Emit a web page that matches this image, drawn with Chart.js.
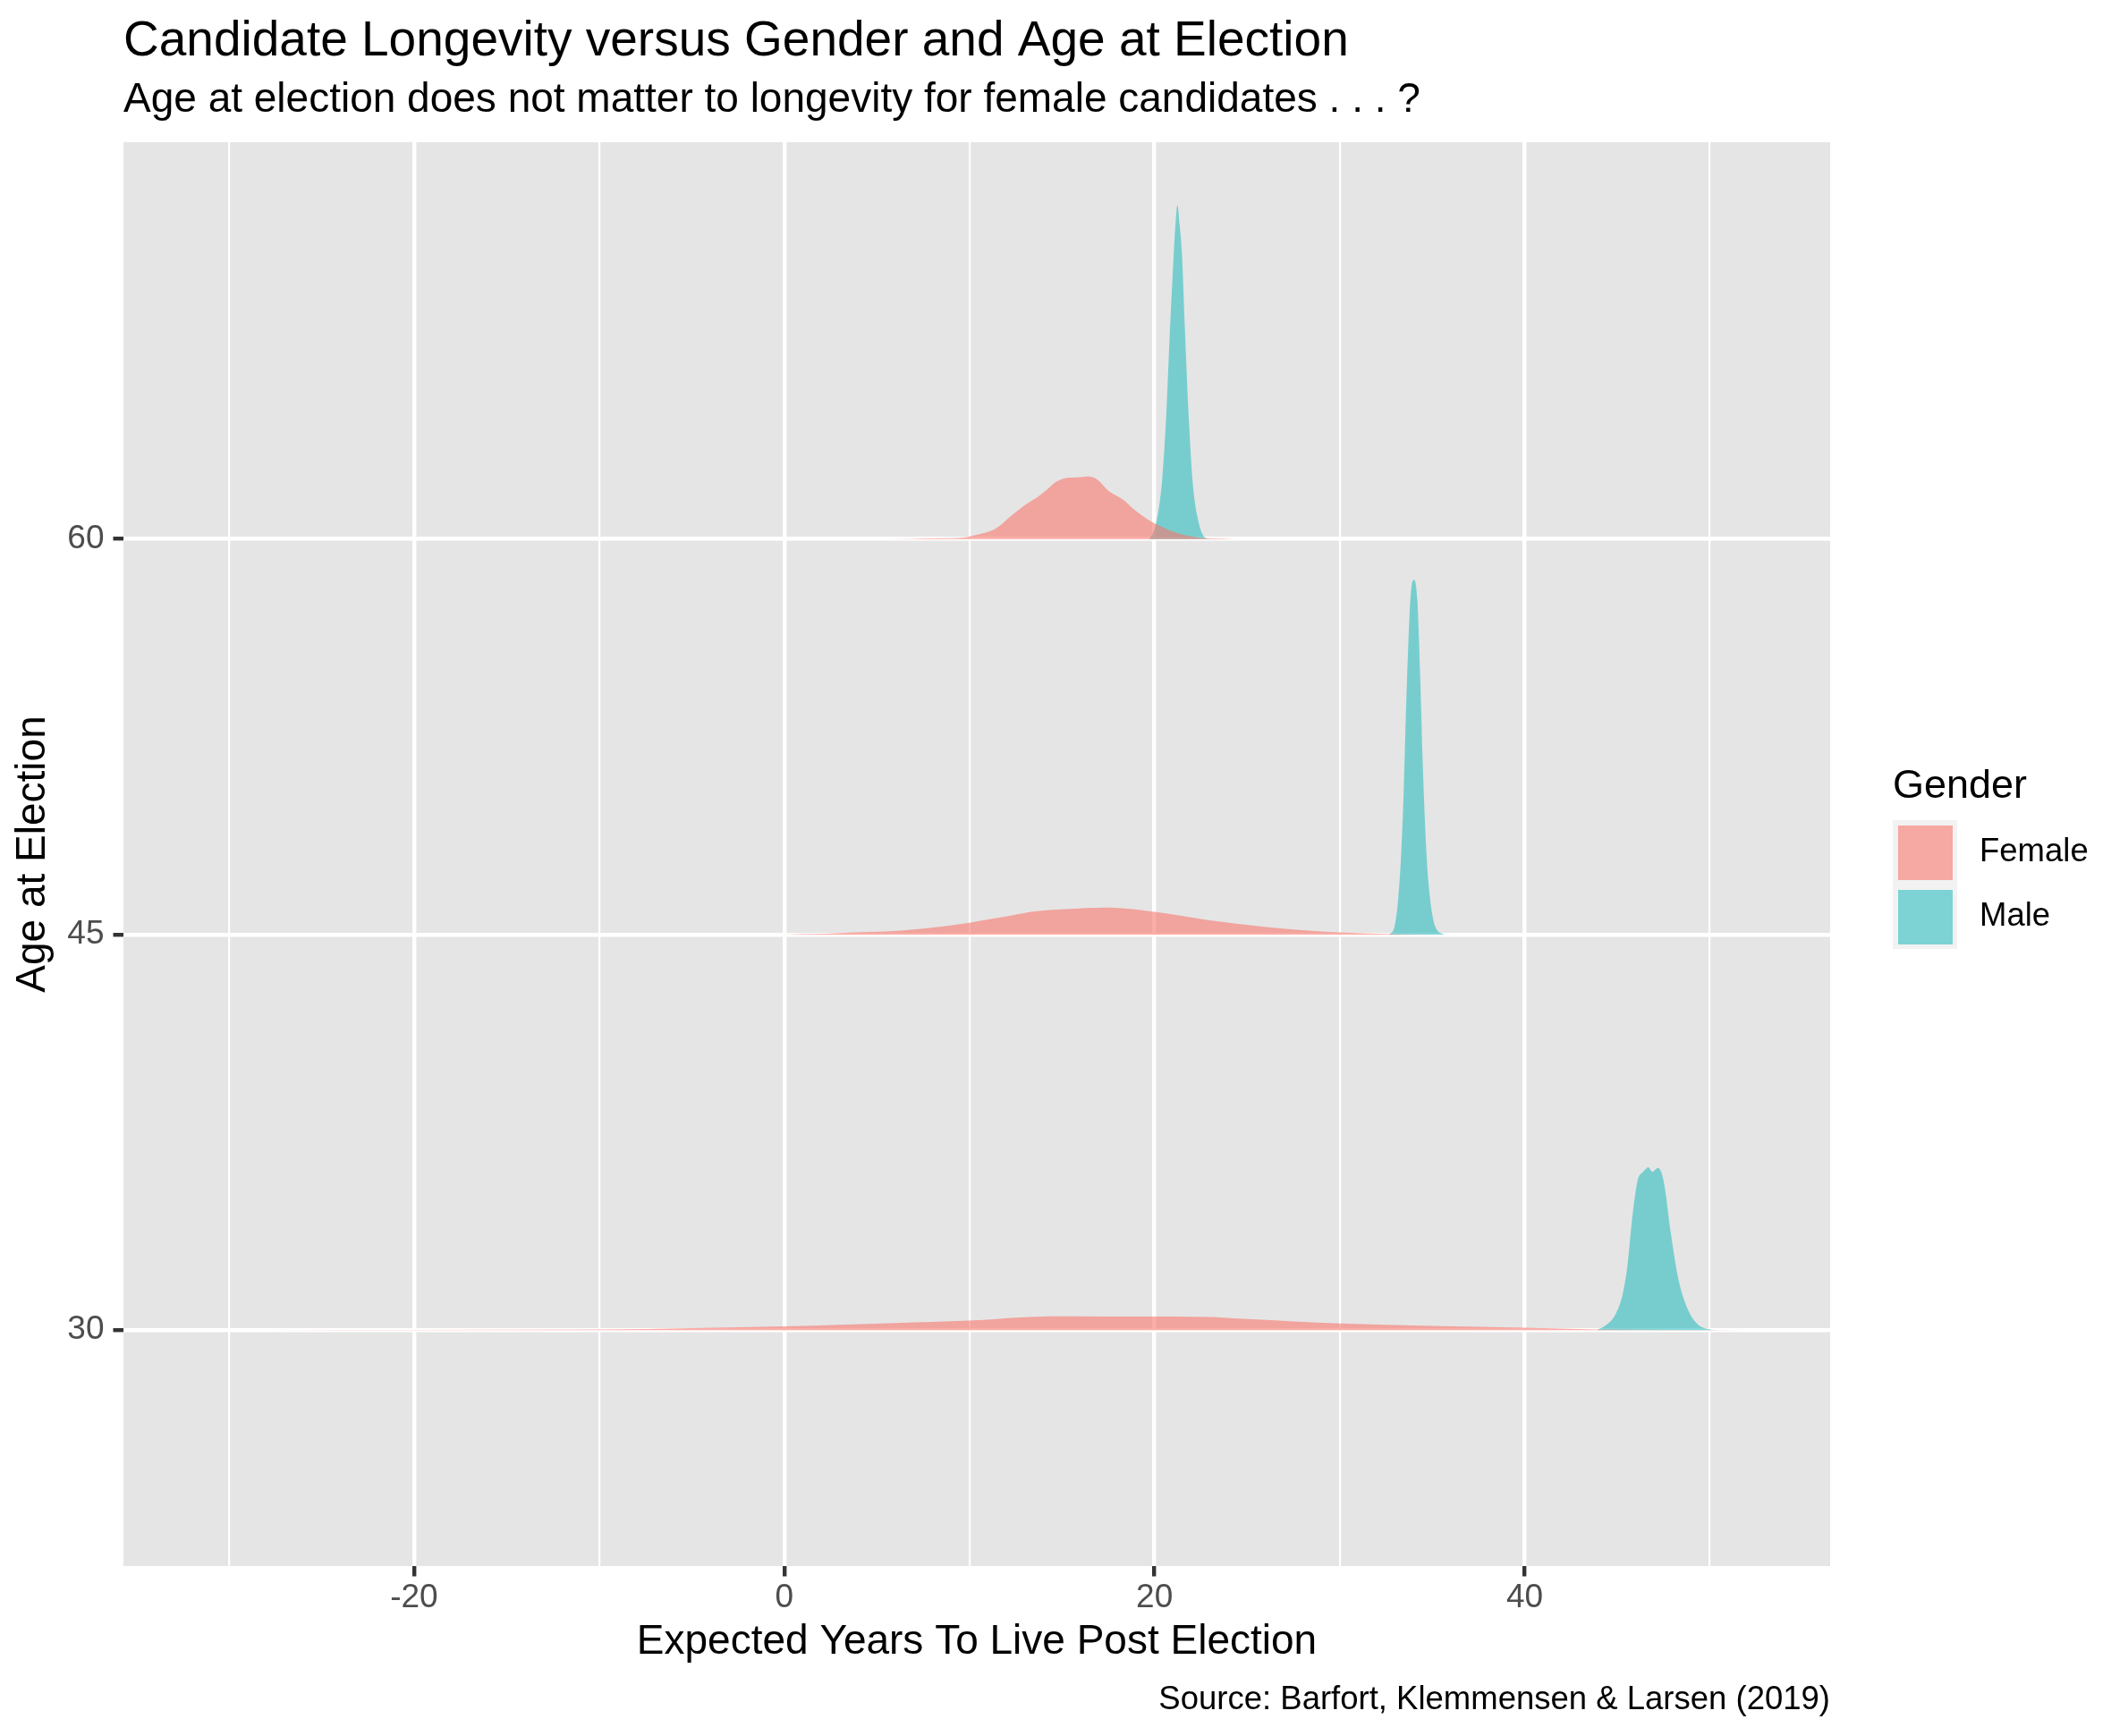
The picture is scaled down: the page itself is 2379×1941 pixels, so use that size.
<!DOCTYPE html>
<html>
<head>
<meta charset="utf-8">
<script src="https://cdn.jsdelivr.net/npm/chart.js@4.4.1/dist/chart.umd.min.js"></script>
<style>
  html, body { margin: 0; padding: 0; background: #ffffff; }
  #wrap { width: 2379px; height: 1941px; }
</style>
</head>
<body>
<div id="wrap"><canvas id="chartCanvas" width="2379" height="1941"></canvas></div>
<script>
// Texts
const chartTitle = 'Candidate Longevity versus Gender and Age at Election';
const chartSubtitle = 'Age at election does not matter to longevity for female candidates . . . ?';
const chartCaption = 'Source: Barfort, Klemmensen & Larsen (2019)';
const xTitle = 'Expected Years To Live Post Election';
const yTitle = 'Age at Election';
const legendTitle = 'Gender';

// Categories and ticks
const genders = ['Female', 'Male'];
const ageLevels = [60, 45, 30];
const xTickValues = [-30, -20, -10, 0, 10, 20, 30, 40, 50];
const xTickLabels = ['', '-20', '', '0', '', '20', '', '40', ''];
const yTickValues = [30, 45, 60];

// Ridge heights (in y units above each age baseline)
const female60Years = [5.0, 6.75, 8.5, 9.65, 10.5, 11.26, 11.74, 12.2, 12.7, 13.2, 13.67, 14.2, 14.64, 15.28, 15.9, 16.41, 16.89, 17.54, 18.34, 18.8, 19.31, 20.11, 21.24, 22.37, 23.3, 24.3];
const female60Height = [0, 0.01, 0.03, 0.06, 0.18, 0.34, 0.56, 0.85, 1.13, 1.38, 1.58, 1.88, 2.15, 2.32, 2.34, 2.37, 2.26, 1.81, 1.47, 1.18, 0.9, 0.56, 0.23, 0.06, 0.02, 0];
const male60Years = [19.7, 19.9, 20.11, 20.3, 20.43, 20.63, 20.84, 21.0, 21.12, 21.24, 21.36, 21.48, 21.64, 21.85, 22.04, 22.2, 22.37, 22.55, 22.77, 23.0];
const male60Height = [0, 0.2, 0.68, 1.5, 2.37, 4.63, 8.02, 10.28, 11.8, 12.66, 11.9, 10.85, 8.02, 4.63, 2.37, 1.3, 0.68, 0.25, 0.03, 0];

const female45Years = [0, 1.5, 3, 6.3, 8.5, 10.0, 11.23, 12.3, 13.46, 15.19, 17.4, 18.4, 20.1, 22.8, 25.8, 28.3, 30.0, 32.5, 35.5];
const female45Height = [0, 0.02, 0.06, 0.15, 0.3, 0.45, 0.6, 0.73, 0.87, 0.96, 1.02, 0.99, 0.85, 0.56, 0.3, 0.15, 0.08, 0.02, 0];
const male45Years = [32.67, 32.96, 33.16, 33.33, 33.46, 33.6, 33.78, 33.9, 34.02, 34.2, 34.35, 34.49, 34.69, 34.88, 35.18, 35.68];
const male45Height = [0, 0.28, 1.3, 3.1, 5.37, 8.76, 12.15, 13.28, 13.45, 12.7, 9.9, 6.5, 3.1, 1.41, 0.28, 0];

const female30Years = [-28, -20, -10, -5, 0, 3, 6.1, 10, 13.3, 15.6, 19, 22.8, 25, 27.5, 30, 35, 40, 43.9, 48, 52];
const female30Height = [0, 0.005, 0.02, 0.07, 0.14, 0.2, 0.27, 0.36, 0.5, 0.52, 0.51, 0.5, 0.42, 0.33, 0.25, 0.16, 0.09, 0.02, 0.005, 0];
const male30Years = [43.9, 44.4, 44.9, 45.3, 45.56, 45.8, 46.1, 46.4, 46.56, 46.67, 46.9, 47.2, 47.5, 47.9, 48.3, 48.8, 49.3, 50.0, 50.3];
const male30Height = [0, 0.19, 0.59, 1.38, 2.5, 4.2, 5.67, 6.0, 6.12, 6.18, 6.0, 6.15, 5.67, 3.64, 1.94, 0.81, 0.25, 0.02, 0];

const FONT = '"Liberation Sans", Arial, Helvetica, sans-serif';
const genderColors = {
    Female: 'rgba(248, 118, 109, 0.6)',
    Male: 'rgba(30, 185, 188, 0.55)'
};

function ridge(years, heights, base) {
    return years.map((x, i) => ({ x: x, y: base + heights[i] }));
}

const ridges = [
    { gender: 'Male', base: 60, years: male60Years, heights: male60Height },
    { gender: 'Female', base: 60, years: female60Years, heights: female60Height },
    { gender: 'Male', base: 45, years: male45Years, heights: male45Height },
    { gender: 'Female', base: 45, years: female45Years, heights: female45Height },
    { gender: 'Male', base: 30, years: male30Years, heights: male30Height },
    { gender: 'Female', base: 30, years: female30Years, heights: female30Height }
];

const datasets = ridges.map((r, i) => ({
    label: r.gender + ' ' + r.base,
    data: ridge(r.years, r.heights, r.base),
    backgroundColor: genderColors[r.gender],
    borderWidth: 0,
    borderColor: 'rgba(0,0,0,0)',
    pointRadius: 0,
    cubicInterpolationMode: 'monotone',
    fill: { value: r.base },
    order: ridges.length - i
}));

// Panel background, titles, caption and legend
const ggDecor = {
    id: 'ggDecor',
    beforeDraw(chart) {
        const { ctx, chartArea: a } = chart;
        ctx.save();
        ctx.fillStyle = '#E5E5E5';
        ctx.fillRect(a.left, a.top, a.right - a.left, a.bottom - a.top);
        ctx.restore();
    },
    afterDraw(chart) {
        const { ctx, chartArea: a } = chart;
        ctx.save();
        ctx.fillStyle = '#000000';
        ctx.textBaseline = 'alphabetic';
        ctx.textAlign = 'left';
        ctx.font = '55px ' + FONT;
        ctx.fillText(chartTitle, a.left, 62);
        ctx.font = '46px ' + FONT;
        ctx.fillText(chartSubtitle, a.left, 125);

        ctx.textAlign = 'right';
        ctx.font = '36.5px ' + FONT;
        ctx.fillText(chartCaption, a.right, 1911);

        // legend
        ctx.textAlign = 'left';
        ctx.font = '45px ' + FONT;
        ctx.fillText(legendTitle, 2116, 892);
        genders.forEach((g, i) => {
            const top = 917 + i * 72;
            ctx.fillStyle = '#F2F2F2';
            ctx.fillRect(2116, top, 72, 72);
            ctx.fillStyle = genderColors[g];
            ctx.fillRect(2122, top + 6, 61, 61);
            ctx.fillStyle = '#000000';
            ctx.font = '36.5px ' + FONT;
            ctx.textBaseline = 'middle';
            ctx.fillText(g, 2213, top + 36);
        });
        ctx.restore();
    }
};

const ctx = document.getElementById('chartCanvas').getContext('2d');
new Chart(ctx, {
    type: 'line',
    data: { datasets: datasets },
    plugins: [ggDecor],
    options: {
        responsive: false,
        devicePixelRatio: 1,
        animation: false,
        layout: { padding: { top: 159, right: 333, bottom: 0, left: 0 } },
        plugins: {
            legend: { display: false },
            tooltip: { enabled: false }
        },
        scales: {
            x: {
                type: 'linear',
                min: -35.7,
                max: 56.5,
                afterBuildTicks: (s) => { s.ticks = xTickValues.map(v => ({ value: v })); },
                afterFit: (s) => { s.height = 190; },
                border: { display: false },
                grid: {
                    color: '#FFFFFF',
                    lineWidth: (c) => (c.tick && c.tick.value % 20 === 0) ? 4.4 : 2.2,
                    tickLength: 11.5,
                    tickWidth: 4.4,
                    tickColor: (c) => (c.tick && c.tick.value % 20 === 0) ? '#333333' : 'rgba(0,0,0,0)'
                },
                ticks: {
                    autoSkip: false,
                    maxRotation: 0,
                    minRotation: 0,
                    padding: 2,
                    color: '#4D4D4D',
                    font: { family: FONT, size: 37 },
                    callback: (v) => xTickLabels[xTickValues.indexOf(v)]
                },
                title: {
                    display: true,
                    text: xTitle,
                    color: '#000000',
                    font: { family: FONT, size: 46 },
                    padding: { top: 0, bottom: 77 }
                }
            },
            y: {
                type: 'linear',
                min: 21.05,
                max: 75.05,
                afterBuildTicks: (s) => { s.ticks = yTickValues.map(v => ({ value: v })); },
                afterFit: (s) => { s.width = 138; },
                border: { display: false },
                grid: {
                    color: '#FFFFFF',
                    lineWidth: 4.4,
                    tickLength: 11.5,
                    tickWidth: 4.4,
                    tickColor: '#333333'
                },
                ticks: {
                    padding: 10,
                    color: '#4D4D4D',
                    font: { family: FONT, size: 37 },
                    callback: (v) => String(v)
                },
                title: {
                    display: true,
                    text: yTitle,
                    color: '#000000',
                    font: { family: FONT, size: 46 },
                    padding: { top: 10, bottom: 0 }
                }
            }
        }
    }
});
</script>
</body>
</html>
